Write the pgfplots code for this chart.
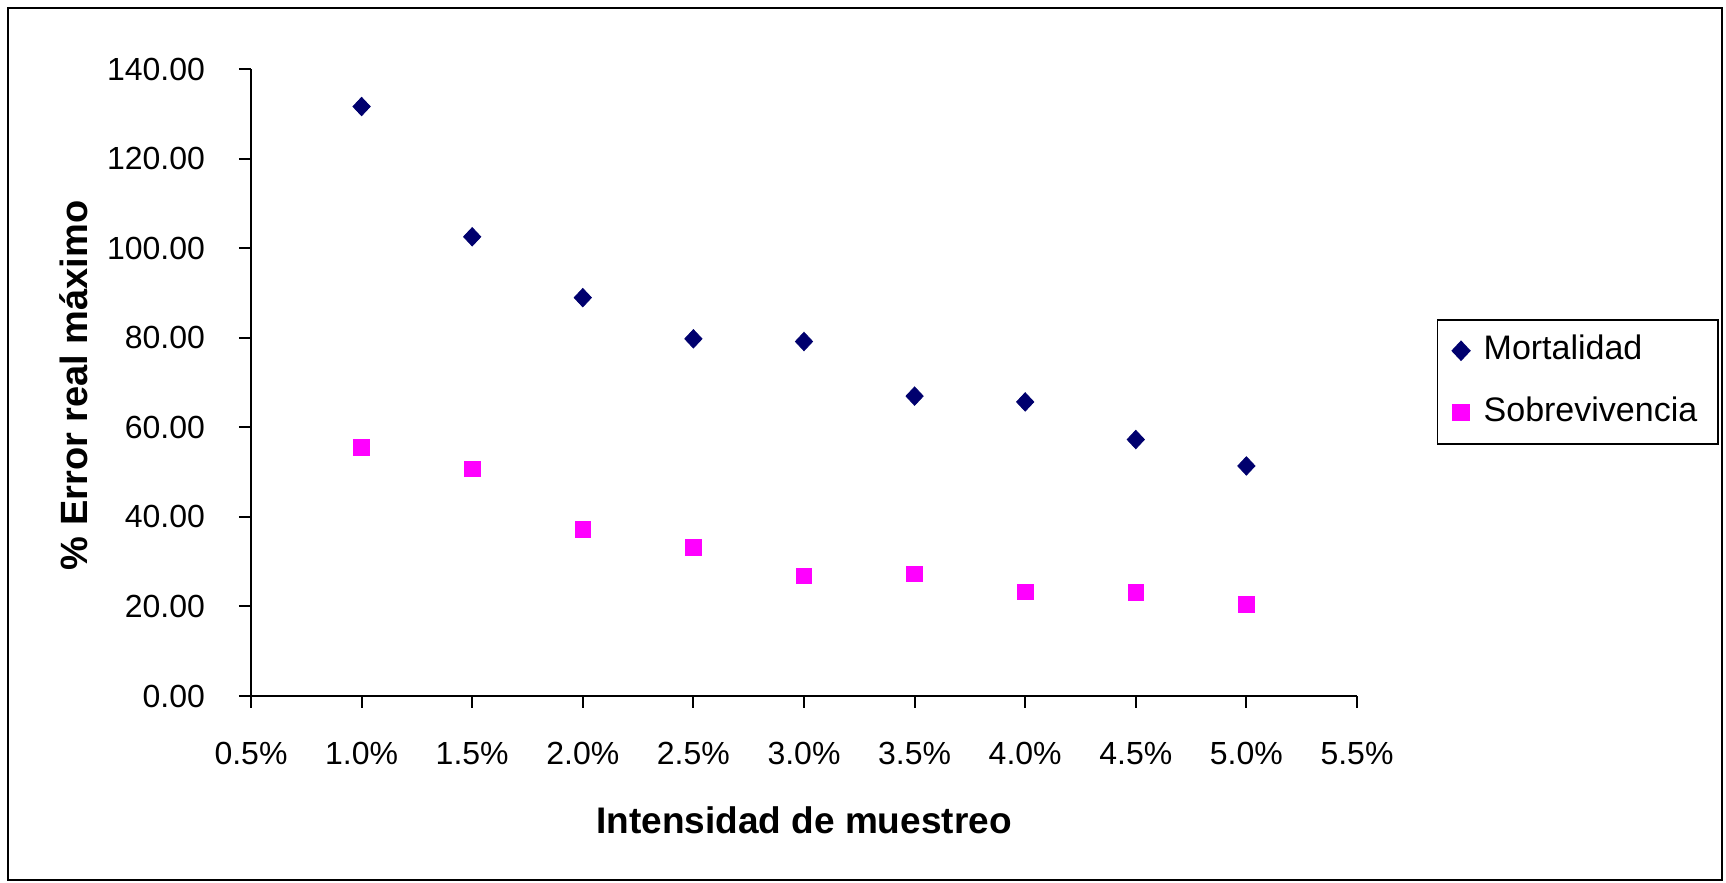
\documentclass[border=0pt]{standalone}
\usepackage{pgfplots}
\pgfplotsset{compat=1.18}
\usepackage{fontspec}
\setmainfont{Liberation Sans}
\definecolor{mnavy}{RGB}{0,0,110}
\definecolor{mmag}{RGB}{255,0,255}
\begin{document}
\begin{tikzpicture}
\useasboundingbox (0,0) rectangle (863pt,441.5pt);
\fill[white] (0,0) rectangle (863pt,441.5pt);
\draw[line width=1pt] (4pt,1.5pt) rectangle (861pt,437.5pt);
\begin{axis}[
  at={(125.5pt,93.5pt)}, anchor=south west,
  scale only axis, width=553pt, height=313.3pt,
  xmin=0.5, xmax=5.5, ymin=0, ymax=140,
  axis lines*=left,
  axis line style={line width=1pt},
  tick align=outside,
  major tick length=6pt,
  tick style={line width=1pt, black},
  xtick={0.5,1.0,1.5,2.0,2.5,3.0,3.5,4.0,4.5,5.0,5.5},
  xticklabels={0.5\%,1.0\%,1.5\%,2.0\%,2.5\%,3.0\%,3.5\%,4.0\%,4.5\%,5.0\%,5.5\%},
  ytick={0,20,40,60,80,100,120,140},
  /pgf/number format/assume math mode=true,
  yticklabel style={/pgf/number format/fixed, /pgf/number format/fixed zerofill, /pgf/number format/precision=2, xshift=-13.5pt},
  ticklabel style={font=\fontsize{16}{19}\selectfont},
  xticklabel style={yshift=-13.7pt},
  xlabel={Intensidad de muestreo},
  ylabel={\% Error real máximo},
  xlabel style={at={(axis description cs:0.5,-0.198)}, anchor=center, font=\fontsize{18.5}{21}\selectfont\bfseries},
  ylabel style={at={(axis description cs:-0.160,0.496)}, anchor=center, font=\fontsize{19}{22}\selectfont\bfseries},
  legend style={at={(1.072,0.6017)}, anchor=north west, draw=black, line width=0.8pt,
    inner ysep=0pt, inner xsep=7.5pt, font=\fontsize{17}{20}\selectfont,
    nodes={inner xsep=3pt, inner ysep=8pt, text height=12pt, text depth=3pt},
    /tikz/every odd column/.append style={column sep=4pt}},
  legend cell align=left,
  clip=false,
]
\addplot[only marks, mark=diamond*, mark size=4.6pt, mark options={xscale=1.25}, color=mnavy] coordinates {
  (1.0,131.7) (1.5,102.6) (2.0,89.0) (2.5,79.8) (3.0,79.2) (3.5,67.0) (4.0,65.7) (4.5,57.3) (5.0,51.4)
};
\addlegendentry{Mortalidad}
\addplot[only marks, mark=square*, mark size=3.9pt, color=mmag] coordinates {
  (1.0,55.6) (1.5,50.7) (2.0,37.2) (2.5,33.2) (3.0,26.8) (3.5,27.3) (4.0,23.3) (4.5,23.2) (5.0,20.5)
};
\addlegendentry{Sobrevivencia}
\end{axis}
\end{tikzpicture}
\end{document}
